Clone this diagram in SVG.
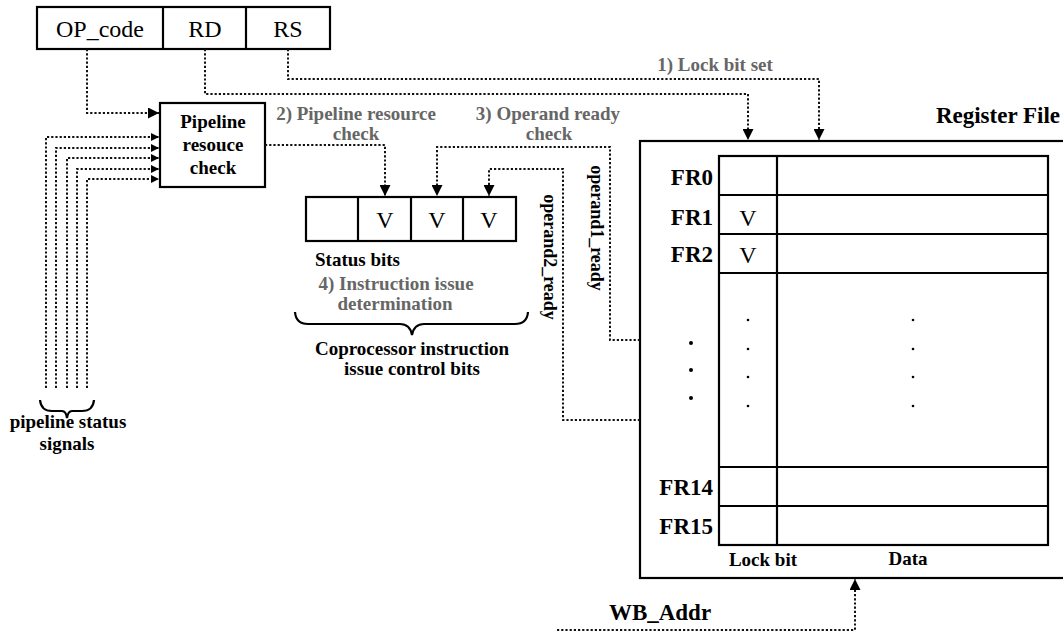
<svg xmlns="http://www.w3.org/2000/svg" width="1063" height="636" viewBox="0 0 1063 636">
<style>
.box{fill:#fff;stroke:#000;stroke-width:2.2}
.ln{fill:none;stroke:#000;stroke-width:2.2}
.dot{fill:none;stroke:#111;stroke-width:2;stroke-dasharray:2.2,2}
.t{font-family:"Liberation Serif","Times New Roman",serif;fill:#000}
.b{font-weight:bold}
.g{fill:#666;font-weight:bold}
</style>
<defs>
<marker id="ah" viewBox="0 0 10 10" refX="10" refY="5" markerWidth="11" markerHeight="11" markerUnits="userSpaceOnUse" orient="auto">
<path d="M0,0 L10,5 L0,10 z" fill="#000"/>
</marker>
<marker id="ahs" viewBox="0 0 10 10" refX="10" refY="5" markerWidth="8" markerHeight="9" markerUnits="userSpaceOnUse" orient="auto">
<path d="M0,0 L10,5 L0,10 z" fill="#000"/>
</marker>
</defs>

<g id="instruction">
<rect class="box" x="37" y="7" width="293" height="42"/>
<line class="ln" x1="163" y1="7" x2="163" y2="49"/>
<line class="ln" x1="246" y1="7" x2="246" y2="49"/>
<text class="t" x="100" y="37" font-size="24" text-anchor="middle">OP_code</text>
<text class="t" x="205" y="37" font-size="24" text-anchor="middle">RD</text>
<text class="t" x="288" y="37" font-size="24" text-anchor="middle">RS</text>
</g>

<g id="pipeline-check">
<rect class="box" x="160" y="103" width="105" height="84"/>
<text class="t b" x="213" y="128" font-size="19" text-anchor="middle">Pipeline</text>
<text class="t b" x="213" y="151" font-size="19" text-anchor="middle">resouce</text>
<text class="t b" x="213" y="174" font-size="19" text-anchor="middle">check</text>
</g>

<g id="status-bits">
<rect class="box" x="306" y="197" width="210" height="44"/>
<line class="ln" x1="358" y1="197" x2="358" y2="241"/>
<line class="ln" x1="411" y1="197" x2="411" y2="241"/>
<line class="ln" x1="463" y1="197" x2="463" y2="241"/>
<text class="t" x="385" y="228" font-size="24" text-anchor="middle">V</text>
<text class="t" x="437" y="228" font-size="24" text-anchor="middle">V</text>
<text class="t" x="489" y="228" font-size="24" text-anchor="middle">V</text>
<text class="t b" x="315" y="266" font-size="19">Status bits</text>
<text class="t g" x="396" y="290" font-size="19" text-anchor="middle">4) Instruction issue</text>
<text class="t g" x="395" y="310" font-size="19" text-anchor="middle">determination</text>
<path class="ln" d="M295,312 Q296,324 308,324 L400,324 Q410,324 412,335 Q414,324 424,324 L515,324 Q527,324 528,312"/>
<text class="t b" x="412" y="355" font-size="19" text-anchor="middle">Coprocessor instruction</text>
<text class="t b" x="412" y="375" font-size="19" text-anchor="middle">issue control bits</text>
</g>

<g id="pipeline-status">
<path class="ln" d="M40,400 Q41,411 52,411 L62,411 Q66,411 67,418 Q68,411 72,411 L82,411 Q93,411 94,400"/>
<text class="t b" x="68" y="428" font-size="19" text-anchor="middle">pipeline status</text>
<text class="t b" x="67" y="450" font-size="19" text-anchor="middle">signals</text>
</g>

<g id="register-file">
<rect class="box" x="640" y="141" width="430" height="437"/>
<text class="t b" x="1060" y="123" font-size="23" text-anchor="end">Register File</text>
<rect class="box" x="719" y="156" width="329" height="389"/>
<line class="ln" x1="777" y1="156" x2="777" y2="545"/>
<line class="ln" x1="719" y1="195" x2="1048" y2="195"/>
<line class="ln" x1="719" y1="234" x2="1048" y2="234"/>
<line class="ln" x1="719" y1="273" x2="1048" y2="273"/>
<line class="ln" x1="719" y1="467" x2="1048" y2="467"/>
<line class="ln" x1="719" y1="506" x2="1048" y2="506"/>
<text class="t b" x="713" y="185" font-size="23" text-anchor="end">FR0</text>
<text class="t b" x="713" y="225" font-size="23" text-anchor="end">FR1</text>
<text class="t b" x="713" y="262" font-size="23" text-anchor="end">FR2</text>
<text class="t b" x="713" y="495" font-size="23" text-anchor="end">FR14</text>
<text class="t b" x="713" y="534" font-size="23" text-anchor="end">FR15</text>
<text class="t" x="748" y="226" font-size="24" text-anchor="middle">V</text>
<text class="t" x="748" y="263" font-size="24" text-anchor="middle">V</text>
<circle cx="691" cy="343" r="2"/><circle cx="691" cy="370" r="2"/><circle cx="691" cy="398" r="2"/>
<circle cx="748" cy="320" r="1.3"/><circle cx="748" cy="349" r="1.3"/><circle cx="748" cy="377" r="1.3"/><circle cx="748" cy="406" r="1.3"/>
<circle cx="913" cy="320" r="1.3"/><circle cx="913" cy="349" r="1.3"/><circle cx="913" cy="377" r="1.3"/><circle cx="913" cy="406" r="1.3"/>
<text class="t b" x="763" y="566" font-size="19" text-anchor="middle">Lock bit</text>
<text class="t b" x="908" y="565" font-size="19" text-anchor="middle">Data</text>
</g>

<g id="connectors">
<path class="dot" d="M87,49 V113 H159" marker-end="url(#ah)"/>
<path class="dot" d="M46,388 V137 H159" marker-end="url(#ahs)"/>
<path class="dot" d="M56,388 V148 H159" marker-end="url(#ahs)"/>
<path class="dot" d="M67,388 V158 H159" marker-end="url(#ahs)"/>
<path class="dot" d="M77,388 V169 H159" marker-end="url(#ahs)"/>
<path class="dot" d="M87,388 V179 H159" marker-end="url(#ahs)"/>
<path class="dot" d="M205,49 V94 H748 V140" marker-end="url(#ah)"/>
<path class="dot" d="M288,49 V79 H819 V140" marker-end="url(#ah)"/>
<text class="t g" x="715" y="71" font-size="19" text-anchor="middle">1) Lock bit set</text>
<path class="dot" d="M265,145 H385 V196" marker-end="url(#ah)"/>
<text class="t g" x="356" y="120" font-size="19" text-anchor="middle">2) Pipeline resource</text>
<text class="t g" x="356" y="140" font-size="19" text-anchor="middle">check</text>
<path class="dot" d="M640,340 H610 V147 H437 V196" marker-end="url(#ah)"/>
<text class="t g" x="548" y="120" font-size="19" text-anchor="middle">3) Operand ready</text>
<text class="t g" x="549" y="140" font-size="19" text-anchor="middle">check</text>
<path class="dot" d="M640,420 H563 V169 H489 V196" marker-end="url(#ah)"/>
<text class="t b" x="0" y="0" font-size="18" text-anchor="middle" transform="translate(591,228) rotate(90)">operand1_ready</text>
<text class="t b" x="0" y="0" font-size="18" text-anchor="middle" transform="translate(544,257) rotate(90)">operand2_ready</text>
<path class="dot" d="M557,630 H855 V579" marker-end="url(#ah)"/>
<text class="t b" x="660" y="620" font-size="23" text-anchor="middle">WB_Addr</text>
</g>
</svg>
